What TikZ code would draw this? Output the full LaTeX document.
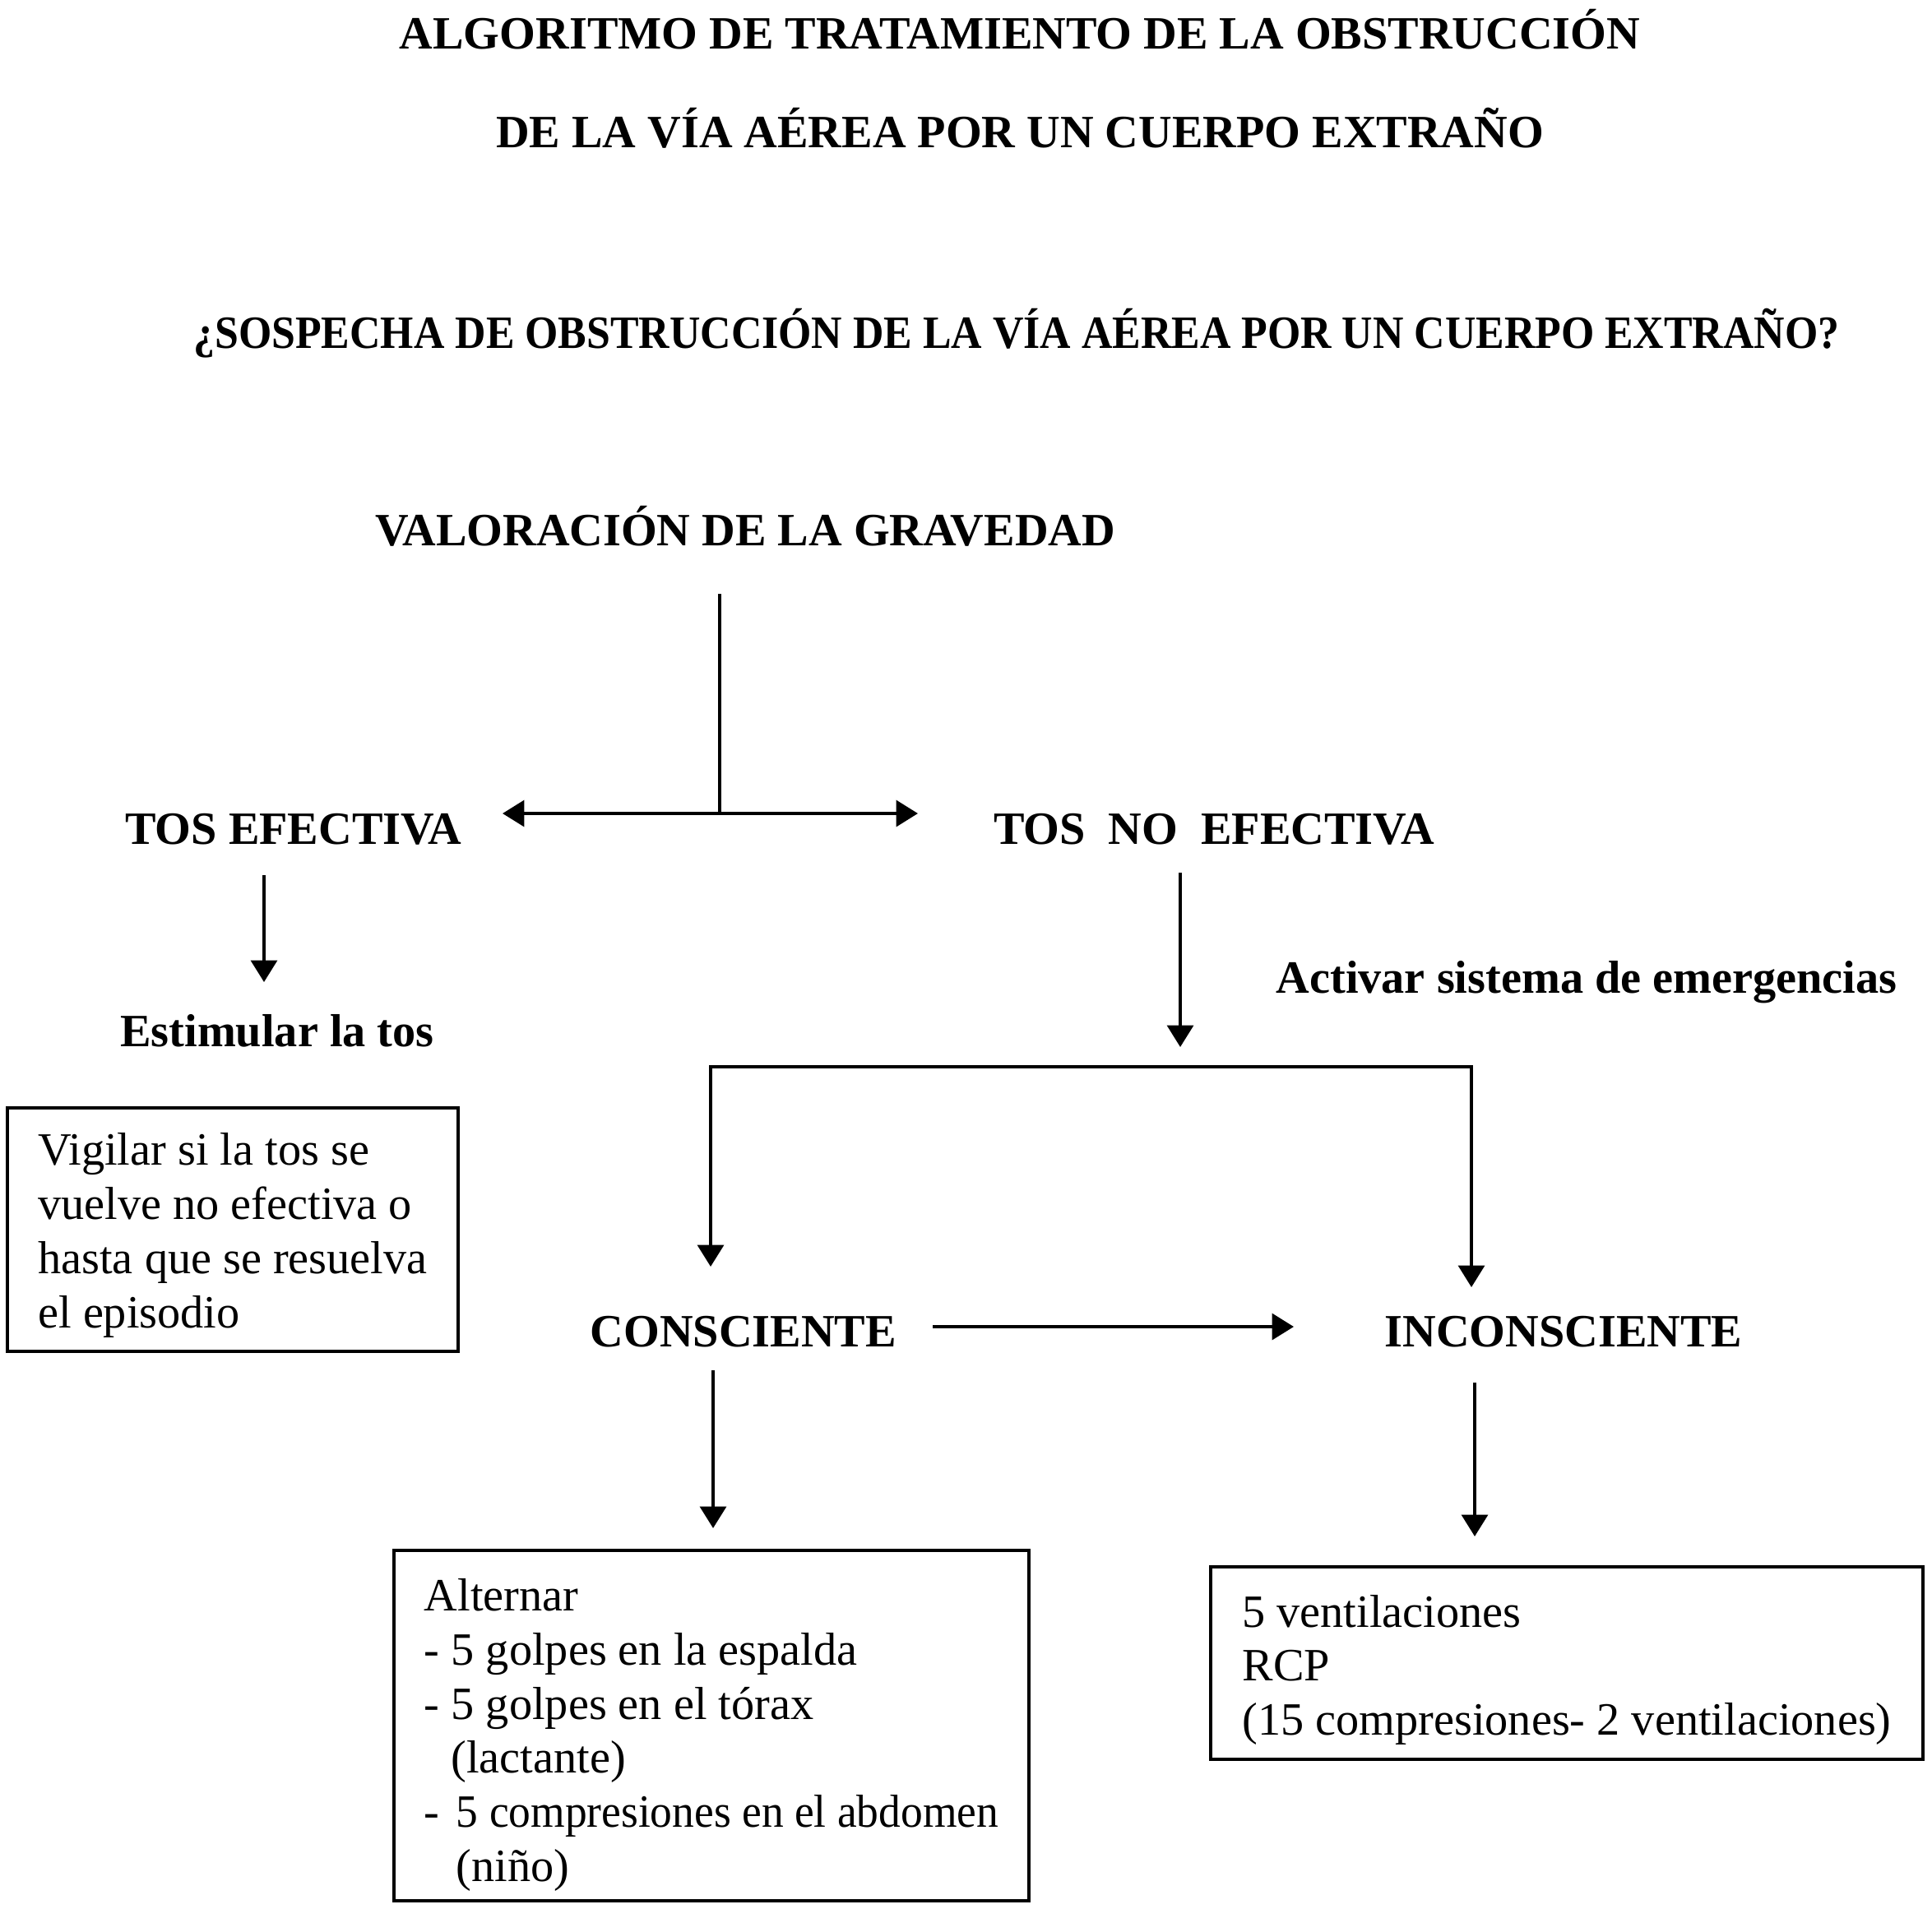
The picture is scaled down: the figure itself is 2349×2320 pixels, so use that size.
\documentclass[tikz,border=0pt]{standalone}
\usepackage{fontspec}
\setmainfont{Liberation Serif}
\usetikzlibrary{arrows.meta}
\tikzset{
  head/.style={font=\fontsize{16}{18.6}\selectfont\bfseries, inner sep=0pt, text height=11pt, text depth=0pt},
  box/.style={draw, line width=1.1pt, align=left, font=\fontsize{16}{18.7}\selectfont},
  line/.style={line width=1.2pt},
  arr/.style={line, -{Triangle[length=7.5pt,width=9pt]}},
  arrs/.style={line, {Triangle[length=7.5pt,width=9pt]}-{Triangle[length=7.5pt,width=9pt]}}
}
\begin{document}
\begin{tikzpicture}[x=0.01cm, y=-0.01cm]
  \useasboundingbox (0,0) rectangle (2349,2320);
  % titles
  \node[head] (t1) at (1240,40) {ALGORITMO DE TRATAMIENTO DE LA OBSTRUCCIÓN};
  \node[head] (t2) at (1240,160) {DE LA VÍA AÉREA POR UN CUERPO EXTRAÑO};
  \node[head] (q) at (1236,404) {\scalebox{0.921}[1]{¿SOSPECHA DE OBSTRUCCIÓN DE LA VÍA AÉREA POR UN CUERPO EXTRAÑO?}};
  \node[head] (val) at (906,644) {VALORACIÓN DE LA GRAVEDAD};
  % steps
  \node[head] (te) at (357,1007) {TOS EFECTIVA};
  \node[head] (tne) at (1476,1007) {TOS\ \ NO\ \ EFECTIVA};
  \node[head] (est) at (337,1253) {Estimular la tos};
  \node[head] (act) at (1929,1188) {Activar sistema de emergencias};
  \node[head] (con) at (904,1618) {CONSCIENTE};
  \node[head] (inc) at (1901,1618) {INCONSCIENTE};
  % boxes
  \node[box, minimum width=5.47cm, minimum height=2.96cm] (vig) at (283,1495)
    {\rule{0pt}{15pt}Vigilar si la tos se\\ vuelve no efectiva o\\ hasta que se resuelva\\ el episodio};
  \node[box, minimum width=7.72cm, minimum height=4.23cm] (alt) at (865,2098)
    {\rule{0pt}{17.6pt}Alternar\\
     - 5 golpes en la espalda\\
     - 5 golpes en el tórax\\
     \hspace*{0.58em}(lactante)\\
     -\hspace{0.36em}\scalebox{0.95}[1]{5 compresiones en el abdomen}\\
     \hspace*{0.69em}(niño)};
  \node[box, minimum width=8.66cm, minimum height=2.34cm] (vent) at (1905,2022)
    {\rule{0pt}{15.8pt}5 ventilaciones\\ RCP\\ (15 compresiones- 2 ventilaciones)};
  % connector ends
  \coordinate (val-out) at (875,722);
  \coordinate (j) at (875,989);
  \coordinate (te-in) at (611,989);
  \coordinate (tne-in) at (1116,989);
  \coordinate (te-out) at (321,1064);
  \coordinate (est-in) at (321,1194);
  \coordinate (tne-out) at (1435,1061);
  \coordinate (tne-end) at (1435,1273);
  \coordinate (bl) at (864,1297);
  \coordinate (br) at (1789,1297);
  \coordinate (con-in) at (864,1540);
  \coordinate (inc-in) at (1789,1565);
  \coordinate (con-r) at (1134,1613);
  \coordinate (inc-l) at (1573,1613);
  \coordinate (con-out) at (867,1666);
  \coordinate (inc-out) at (1793,1681);
  \begin{scope}
    \draw[line] (val-out) -- (j);
    \draw[arrs] (te-in) -- (tne-in);
    \draw[arr] (te-out) -- (est-in);
    \draw[arr] (tne-out) -- (tne-end);
    \draw[arrs] (con-in) -- (bl) -- (br) -- (inc-in);
    \draw[arr] (con-r) -- (inc-l);
    \draw[arr, shorten >=0.25cm] (con-out) -- (con-out |- alt.north);
    \draw[arr, shorten >=0.35cm] (inc-out) -- (inc-out |- vent.north);
  \end{scope}
\end{tikzpicture}
\end{document}
